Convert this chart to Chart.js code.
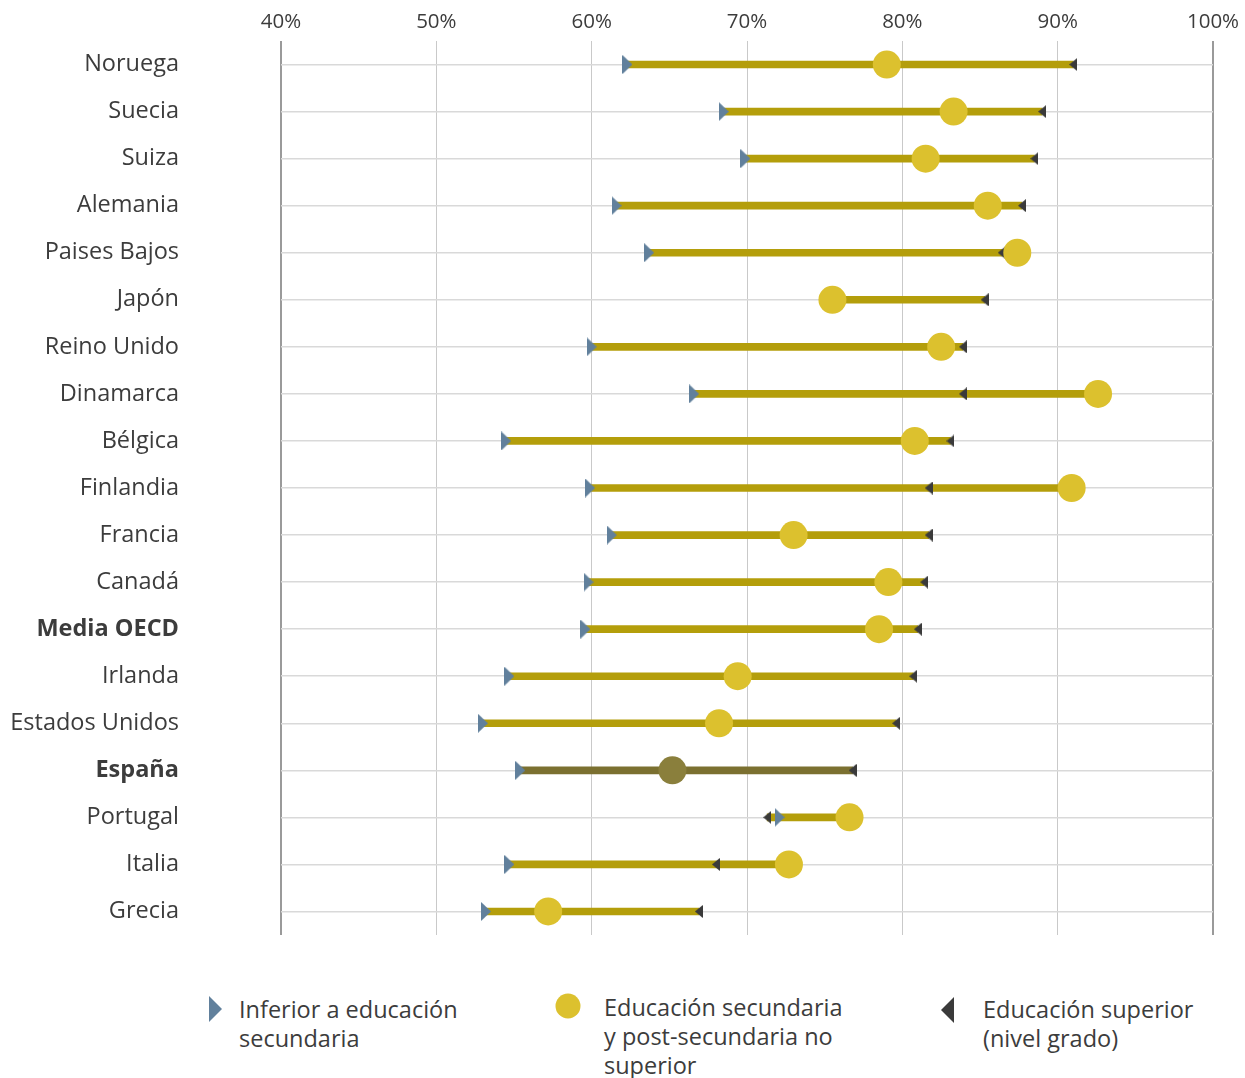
<!DOCTYPE html>
<html lang="es">
<head>
<meta charset="utf-8">
<title>Tasa de empleo por nivel educativo</title>
<script src="https://cdn.jsdelivr.net/npm/chart.js@4.4.1/dist/chart.umd.min.js"></script>
<style>
  body { margin: 0; background: #fff; font-family: "Open Sans", sans-serif; color: #3c3c3c; }
  #wrap { position: relative; width: 1245px; height: 1078px; }
  #chartBox { position: absolute; left: 0; top: 0; width: 1245px; height: 949px; }
  .lg-text { position: absolute; font-size: 23.5px; line-height: 29px; color: #3c3c3c; white-space: nowrap; }
  .lg-icon { position: absolute; }
</style>
</head>
<body>
<div id="wrap">
  <div id="chartBox"><canvas id="chart" width="1245" height="949"></canvas></div>

  <!-- legend -->
  <canvas class="lg-icon" id="lgLow" width="14" height="26" style="left:208px;top:996px"></canvas>
  <div class="lg-text" style="left:239px;top:995px">Inferior a educación<br>secundaria</div>
  <canvas class="lg-icon" id="lgMid" width="26" height="26" style="left:555px;top:993px"></canvas>
  <div class="lg-text" style="left:604px;top:993px">Educación secundaria<br>y post-secundaria no<br>superior</div>
  <canvas class="lg-icon" id="lgHigh" width="15" height="26" style="left:940px;top:997px"></canvas>
  <div class="lg-text" style="left:983px;top:995px">Educación superior<br>(nivel grado)</div>
</div>

<script>
// --- Data ---
const categories = ['Noruega', 'Suecia', 'Suiza', 'Alemania', 'Paises Bajos', 'Japón', 'Reino Unido',
  'Dinamarca', 'Bélgica', 'Finlandia', 'Francia', 'Canadá', 'Media OECD', 'Irlanda',
  'Estados Unidos', 'España', 'Portugal', 'Italia', 'Grecia'];
// Inferior a educación secundaria
const lowerSec = [62.3, 68.5, 69.9, 61.6, 63.7, null, 60.0, 66.6, 54.5, 59.9, 61.3, 59.8, 59.6,
  54.7, 53.0, 55.4, 72.1, 54.7, 53.2];
// Educación secundaria y post-secundaria no superior
const upperSec = [79.0, 83.3, 81.5, 85.5, 87.4, 75.5, 82.5, 92.6, 80.8, 90.9, 73.0, 79.1, 78.5,
  69.4, 68.2, 65.2, 76.6, 72.7, 57.2];
// Educación superior (nivel grado)
const tertiary = [91.0, 89.0, 88.5, 87.7, 86.4, 85.3, 83.9, 83.9, 83.1, 81.7, 81.7, 81.4, 81.0,
  80.7, 79.6, 76.8, 71.3, 68.0, 66.9];
const xTicks = [40, 50, 60, 70, 80, 90, 100];
const boldRows = ['Media OECD', 'España'];
const highlightRow = 'España';

// --- Colours ---
const LINE = '#b49e0b';
const LINE_HL = '#7b7030';
const DOT = '#dcc12e';
const DOT_HL = '#8a7f3c';
const BLUE = '#61809c';
const DARK = '#3a3a3a';
const FONT = '"Open Sans", sans-serif';

// triangle marker drawn on a small canvas, used as pointStyle
function makeTriangle(w, h, color, dir) {
    const c = document.createElement('canvas');
    c.width = w; c.height = h;
    const g = c.getContext('2d');
    g.fillStyle = color;
    g.beginPath();
    if (dir === 'right') {
        g.moveTo(0, 0); g.lineTo(w, h / 2); g.lineTo(0, h);
    } else {
        g.moveTo(w, 0); g.lineTo(0, h / 2); g.lineTo(w, h);
    }
    g.closePath();
    g.fill();
    return c;
}

const triRight = makeTriangle(10, 19, BLUE, 'right');
const triLeft = makeTriangle(8, 13, DARK, 'left');

const hlIndex = categories.indexOf(highlightRow);
const rangeData = categories.map((_, i) => {
    const vals = [lowerSec[i], upperSec[i], tertiary[i]].filter(v => v !== null);
    return { y: i, x: [Math.min(...vals), Math.max(...vals)] };
});

const isEdge = (ctx) => ctx.tick && (ctx.tick.value === 40 || ctx.tick.value === 100);

new Chart(document.getElementById('chart'), {
    type: 'bar',
    data: {
        datasets: [
            {
                type: 'scatter',
                label: 'Educación secundaria y post-secundaria no superior',
                data: upperSec.map((v, i) => ({ x: v, y: i })),
                pointRadius: 14,
                pointHoverRadius: 14,
                pointBackgroundColor: categories.map((_, i) => i === hlIndex ? DOT_HL : DOT),
                pointBorderWidth: 0,
                order: 0
            },
            {
                type: 'scatter',
                label: 'Inferior a educación secundaria',
                data: lowerSec.map((v, i) => ({ x: v, y: i })).filter(p => p.x !== null),
                pointStyle: triRight,
                order: 1
            },
            {
                type: 'scatter',
                label: 'Educación superior (nivel grado)',
                data: tertiary.map((v, i) => ({ x: v, y: i })),
                pointStyle: triLeft,
                order: 2
            },
            {
                type: 'bar',
                label: 'rango',
                indexAxis: 'y',
                data: rangeData,
                backgroundColor: categories.map((_, i) => i === hlIndex ? LINE_HL : LINE),
                barThickness: 7,
                borderSkipped: false,
                order: 3
            }
        ]
    },
    options: {
        responsive: false,
        animation: false,
        layout: { padding: { left: 0, right: 32, top: 0, bottom: 7 } },
        plugins: { legend: { display: false }, tooltip: { enabled: false } },
        scales: {
            x: {
                type: 'linear',
                position: 'top',
                offset: false,
                min: 40,
                max: 100,
                afterBuildTicks: (scale) => { scale.ticks = xTicks.map(v => ({ value: v })); },
                afterFit: (scale) => {
                    scale.height = 41;
                    scale.paddingLeft = 0;
                    scale.paddingRight = 0;
                },
                border: { display: false },
                grid: {
                    offset: false,
                    drawTicks: false,
                    color: (ctx) => isEdge(ctx) ? '#9a9a9a' : '#c9c9c9',
                    lineWidth: (ctx) => isEdge(ctx) ? 2 : 1
                },
                ticks: {
                    padding: 7,
                    color: '#3c3c3c',
                    font: { family: FONT, size: 20.5 },
                    callback: (v) => v + '%'
                }
            },
            y: {
                type: 'linear',
                reverse: true,
                offset: false,
                beginAtZero: false,
                min: -0.5,
                max: categories.length - 0.5,
                afterBuildTicks: (scale) => { scale.ticks = categories.map((_, i) => ({ value: i })); },
                afterFit: (scale) => {
                    scale.width = 281;
                    scale.paddingTop = 0;
                    scale.paddingBottom = 0;
                },
                border: { display: false },
                grid: { offset: false, drawTicks: false, color: '#d9d9d9', lineWidth: 1.5 },
                ticks: {
                    padding: 102,
                    color: '#3c3c3c',
                    font: (ctx) => ({
                        family: FONT,
                        size: 23.5,
                        weight: (ctx.tick && boldRows.includes(categories[ctx.tick.value])) ? 'bold' : 'normal'
                    }),
                    callback: (v) => categories[v]
                }
            }
        }
    }
});

// --- Legend icons ---
(function drawLegendIcons() {
    let g = document.getElementById('lgLow').getContext('2d');
    g.fillStyle = BLUE;
    g.beginPath(); g.moveTo(1, 0); g.lineTo(14, 13); g.lineTo(1, 26); g.closePath(); g.fill();

    g = document.getElementById('lgMid').getContext('2d');
    g.fillStyle = DOT;
    g.beginPath(); g.arc(13, 13, 12.5, 0, Math.PI * 2); g.fill();

    g = document.getElementById('lgHigh').getContext('2d');
    g.fillStyle = DARK;
    g.beginPath(); g.moveTo(14, 0); g.lineTo(1, 13); g.lineTo(14, 26); g.closePath(); g.fill();
})();
</script>
</body>
</html>
